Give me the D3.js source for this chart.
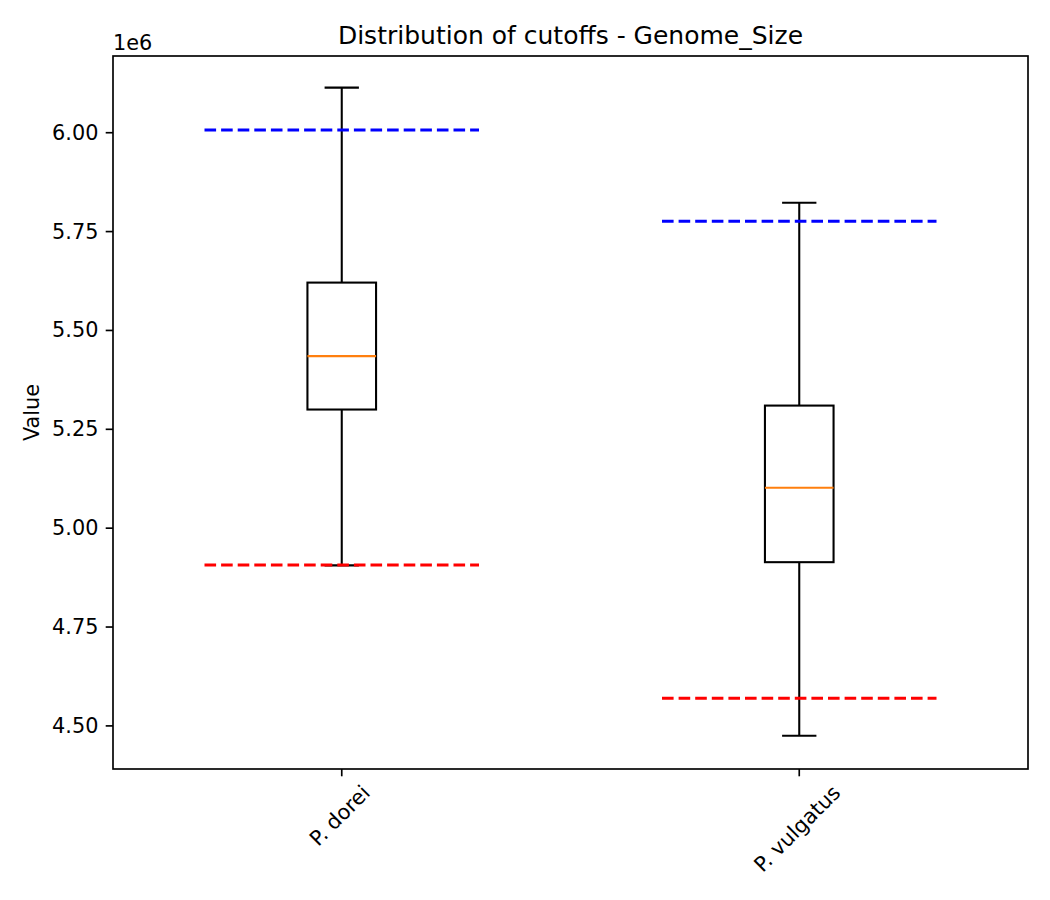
<!DOCTYPE html>
<html>
<head>
<meta charset="utf-8">
<script src="https://cdn.jsdelivr.net/npm/d3@7"></script>
<style>
  body { margin: 0; background: #fff; }
  text { font-family: "DejaVu Sans", sans-serif; fill: #000; }
</style>
</head>
<body>
<svg id="chart" width="1050" height="900"></svg>
<script>
// values
const categories = ["P. dorei", "P. vulgatus"];
const whiskerLow = [4.906e6, 4.475e6];
const q1 = [5.300e6, 4.914e6];
const median = [5.435e6, 5.102e6];
const q3 = [5.621e6, 5.310e6];
const whiskerHigh = [6.114e6, 5.823e6];
const upperCutoff = [6.007e6, 5.776e6];
const lowerCutoff = [4.907e6, 4.570e6];
const yTicks = [4.5e6, 4.75e6, 5.0e6, 5.25e6, 5.5e6, 5.75e6, 6.0e6];

const margin = {left: 113, right: 1028, top: 56, bottom: 769};
const fontSize = 20.8;

const svg = d3.select('#chart');

var scale =
{
    x: d3.scaleLinear().domain([0.5, categories.length + 0.5]).range([margin.left, margin.right]),
    y: d3.scaleLinear().domain([4.391e6, 6.194e6]).range([margin.bottom, margin.top])
};

const boxes = categories.map((name, i) => ({
    name: name,
    pos: i + 1,
    low: whiskerLow[i],
    q1: q1[i],
    med: median[i],
    q3: q3[i],
    high: whiskerHigh[i],
    upper: upperCutoff[i],
    lower: lowerCutoff[i]
}));

const plot = svg.append('g');

// whiskers
plot.selectAll('.whisker-low').data(boxes).enter().append('line')
    .attr('x1', d => scale.x(d.pos)).attr('x2', d => scale.x(d.pos))
    .attr('y1', d => scale.y(d.q1)).attr('y2', d => scale.y(d.low))
    .attr('stroke', '#000').attr('stroke-width', 2.08);
plot.selectAll('.whisker-high').data(boxes).enter().append('line')
    .attr('x1', d => scale.x(d.pos)).attr('x2', d => scale.x(d.pos))
    .attr('y1', d => scale.y(d.q3)).attr('y2', d => scale.y(d.high))
    .attr('stroke', '#000').attr('stroke-width', 2.08);

// caps
['low', 'high'].forEach((k) => {
    plot.selectAll('.cap-' + k).data(boxes).enter().append('line')
        .attr('x1', d => scale.x(d.pos - 0.0375)).attr('x2', d => scale.x(d.pos + 0.0375))
        .attr('y1', d => scale.y(d[k])).attr('y2', d => scale.y(d[k]))
        .attr('stroke', '#000').attr('stroke-width', 2.08);
});

// boxes
plot.selectAll('.box').data(boxes).enter().append('rect')
    .attr('x', d => scale.x(d.pos - 0.075))
    .attr('width', d => scale.x(d.pos + 0.075) - scale.x(d.pos - 0.075))
    .attr('y', d => scale.y(d.q3))
    .attr('height', d => scale.y(d.q1) - scale.y(d.q3))
    .attr('fill', 'none').attr('stroke', '#000').attr('stroke-width', 2.08);

// medians
plot.selectAll('.median').data(boxes).enter().append('line')
    .attr('x1', d => scale.x(d.pos - 0.075)).attr('x2', d => scale.x(d.pos + 0.075))
    .attr('y1', d => scale.y(d.med)).attr('y2', d => scale.y(d.med))
    .attr('stroke', '#ff7f0e').attr('stroke-width', 2.08);

// cutoff lines
[['upper', 'blue'], ['lower', 'red']].forEach(([k, color]) => {
    plot.selectAll('.cut-' + k).data(boxes).enter().append('line')
        .attr('x1', d => scale.x(d.pos - 0.3)).attr('x2', d => scale.x(d.pos + 0.3))
        .attr('y1', d => scale.y(d[k])).attr('y2', d => scale.y(d[k]))
        .attr('stroke', color).attr('stroke-width', 3.125)
        .attr('stroke-dasharray', '11.6,5');
});

// y axis
const yAxis = svg.append('g');
yTicks.forEach((t) => {
    const y = scale.y(t);
    yAxis.append('line')
        .attr('x1', margin.left - 7.3).attr('x2', margin.left)
        .attr('y1', y).attr('y2', y)
        .attr('stroke', '#000').attr('stroke-width', 1.67);
    yAxis.append('text')
        .attr('x', margin.left - 14.6).attr('y', y)
        .attr('text-anchor', 'end').attr('dominant-baseline', 'central')
        .style('font-size', fontSize + 'px')
        .text(d3.format('.2f')(t / 1e6));
});

svg.append('text')
    .attr('x', margin.left).attr('y', 50)
    .style('font-size', fontSize + 'px')
    .text('1e6');

// x axis
const xAxis = svg.append('g');
boxes.forEach((d) => {
    const x = scale.x(d.pos);
    xAxis.append('line')
        .attr('x1', x).attr('x2', x)
        .attr('y1', margin.bottom).attr('y2', margin.bottom + 7.3)
        .attr('stroke', '#000').attr('stroke-width', 1.67);
    const label = xAxis.append('text')
        .attr('text-anchor', 'middle').attr('dominant-baseline', 'central')
        .style('font-size', fontSize + 'px')
        .text(d.name);
    const w = label.node().getComputedTextLength();
    const h = fontSize * 1.164;
    const cy = margin.bottom + 11.6 + (w + h) / (2 * Math.SQRT2);
    label.attr('transform', `translate(${x - 2},${cy}) rotate(-45)`);
});

// axis label and title
svg.append('text')
    .attr('transform', `translate(39,${(margin.top + margin.bottom) / 2}) rotate(-90)`)
    .attr('text-anchor', 'middle')
    .style('font-size', fontSize + 'px')
    .text('Value');

svg.append('text')
    .attr('x', (margin.left + margin.right) / 2).attr('y', 43.5)
    .attr('text-anchor', 'middle')
    .style('font-size', '25px')
    .text('Distribution of cutoffs - Genome_Size');

// frame
svg.append('rect')
    .attr('x', margin.left).attr('y', margin.top)
    .attr('width', margin.right - margin.left)
    .attr('height', margin.bottom - margin.top)
    .attr('fill', 'none').attr('stroke', '#000').attr('stroke-width', 1.67);
</script>
</body>
</html>
